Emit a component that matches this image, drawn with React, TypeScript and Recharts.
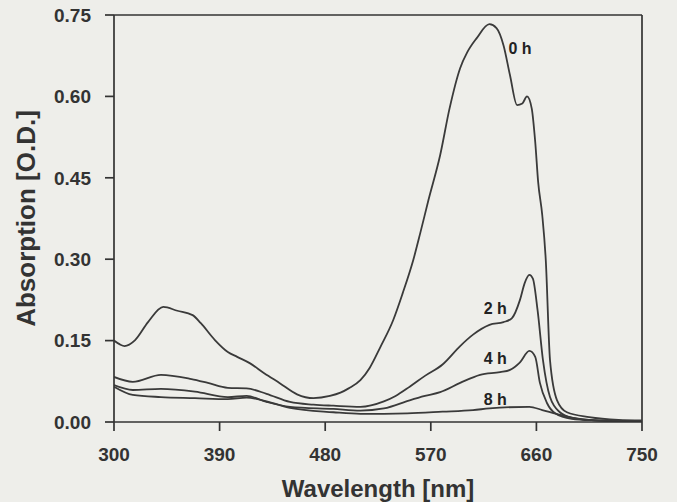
import React from 'react';
import { LineChart, Line, XAxis, YAxis, ReferenceDot, ReferenceLine } from 'recharts';

// Wavelengths (nm) and absorption (O.D.) per series
const wl0h = [300, 305, 309, 318, 329, 342, 354, 367, 374, 386, 397, 405, 416, 428, 441, 456, 470, 484, 493, 500, 510, 518, 527, 538, 546, 555, 561, 568, 578, 586, 595, 601, 609, 620, 626, 632, 637.5, 643.5, 648, 652, 656, 659, 661.5, 665, 668, 671.6, 677.6, 686, 705, 730, 750];
const abs0h = [0.15, 0.143, 0.14, 0.151, 0.184, 0.212, 0.205, 0.197, 0.182, 0.151, 0.129, 0.12, 0.108, 0.09, 0.072, 0.051, 0.044, 0.048, 0.054, 0.062, 0.077, 0.1, 0.138, 0.188, 0.237, 0.298, 0.348, 0.409, 0.492, 0.578, 0.652, 0.681, 0.707, 0.733, 0.726, 0.694, 0.639, 0.584, 0.587, 0.6, 0.578, 0.516, 0.442, 0.381, 0.298, 0.114, 0.04, 0.018, 0.009, 0.004, 0.003];

const wl2h = [300, 316, 340, 366, 380, 397, 413, 430, 450, 470, 487, 510, 530, 540, 552, 565, 580, 595, 606, 620, 632, 639, 646, 650, 654, 657, 661, 665.6, 671.6, 680, 690, 710, 750];
const abs2h = [0.083, 0.074, 0.087, 0.079, 0.072, 0.063, 0.062, 0.052, 0.037, 0.032, 0.03, 0.028, 0.038, 0.048, 0.065, 0.085, 0.106, 0.14, 0.161, 0.179, 0.184, 0.191, 0.225, 0.256, 0.271, 0.264, 0.206, 0.114, 0.046, 0.018, 0.008, 0.003, 0.001];

const wl4h = [300, 316, 340, 369, 397, 413, 430, 450, 487, 510, 530, 552, 565, 578, 595, 612, 629, 637.5, 646, 654, 659, 663, 669, 676, 690, 710, 750];
const abs4h = [0.068, 0.059, 0.061, 0.056, 0.046, 0.048, 0.037, 0.028, 0.024, 0.021, 0.025, 0.04, 0.048, 0.055, 0.072, 0.087, 0.092, 0.096, 0.11, 0.131, 0.12, 0.072, 0.035, 0.016, 0.006, 0.003, 0.001];

const wl8h = [300, 316, 340, 369, 397, 413, 430, 450, 487, 510, 550, 580, 606, 620, 654, 665, 677, 690, 710, 750];
const abs8h = [0.065, 0.05, 0.046, 0.044, 0.042, 0.045, 0.038, 0.026, 0.018, 0.015, 0.016, 0.019, 0.022, 0.025, 0.028, 0.022, 0.015, 0.008, 0.003, 0.001];

const xTicks = [300, 390, 480, 570, 660, 750];
const yTicks = [0, 0.15, 0.3, 0.45, 0.6, 0.75];
const xMax = 750;
const yMax = 0.75;

const seriesLabels = ['0 h', '2 h', '4 h', '8 h'];
const labelX = [646, 625, 625, 625];
const labelY = [0.689, 0.21, 0.118, 0.042];

const toPoints = (xs: number[], ys: number[]) => xs.map((x, i) => ({ x, y: ys[i] }));
const series = [
  toPoints(wl0h, abs0h),
  toPoints(wl2h, abs2h),
  toPoints(wl4h, abs4h),
  toPoints(wl8h, abs8h),
];

const FONT = '"Liberation Sans", Arial, sans-serif';
const INK = '#333333';
const LINE = '#3a3a3a';

const YTitle = (props: any) => {
  const vb = props.viewBox || {};
  const cx = vb.x + 26;
  const cy = vb.y + vb.height / 2;
  return (
    <text
      x={cx}
      y={cy}
      transform={`rotate(-90 ${cx} ${cy})`}
      textAnchor="middle"
      dominantBaseline="central"
      fontFamily={FONT}
      fontWeight="bold"
      fontSize={26}
      fill={INK}
    >
      Absorption [O.D.]
    </text>
  );
};

export default function App() {
  return (
    <div style={{ position: 'absolute', left: 0, top: 0, width: 677, height: 502, background: '#eeeeea' }}>
      <LineChart width={677} height={502} margin={{ top: 15, right: 35, bottom: 22, left: 0 }}>
        <XAxis
          xAxisId="b"
          dataKey="x"
          type="number"
          domain={[300, 750]}
          ticks={xTicks}
          allowDataOverflow
          height={58}
          tickSize={9}
          tickMargin={17}
          stroke={INK}
          strokeWidth={1.7}
          tick={{ fill: INK, fontSize: 19, fontWeight: 'bold', fontFamily: FONT }}
          label={{ value: 'Wavelength [nm]', position: 'bottom', offset: 0, fill: INK, fontSize: 24, fontWeight: 'bold', fontFamily: FONT }}
        />
        <YAxis
          yAxisId="l"
          type="number"
          domain={[0, 0.75]}
          ticks={yTicks}
          allowDataOverflow
          width={114}
          tickSize={9}
          tickMargin={14}
          stroke={INK}
          strokeWidth={1.7}
          tickFormatter={(v: number) => v.toFixed(2)}
          tick={{ fill: INK, fontSize: 19, fontWeight: 'bold', fontFamily: FONT }}
          label={<YTitle />}
        />
        <ReferenceLine xAxisId="b" yAxisId="l" y={yMax} stroke={INK} strokeWidth={1.7} ifOverflow="visible" />
        <ReferenceLine xAxisId="b" yAxisId="l" x={xMax} stroke={INK} strokeWidth={1.7} ifOverflow="visible" />
        {series.map((d, i) => (
          <Line
            key={i}
            xAxisId="b"
            yAxisId="l"
            data={d}
            dataKey="y"
            type="monotone"
            stroke={LINE}
            strokeWidth={1.8}
            dot={false}
            activeDot={false}
            isAnimationActive={false}
          />
        ))}
        {seriesLabels.map((s, i) => (
          <ReferenceDot
            key={s}
            xAxisId="b"
            yAxisId="l"
            x={labelX[i]}
            y={labelY[i]}
            r={0}
            fill="none"
            stroke="none"
            label={{ value: s, position: 'center', fill: '#222', fontSize: 16, fontWeight: 'bold', fontFamily: FONT }}
          />
        ))}
      </LineChart>
    </div>
  );
}
